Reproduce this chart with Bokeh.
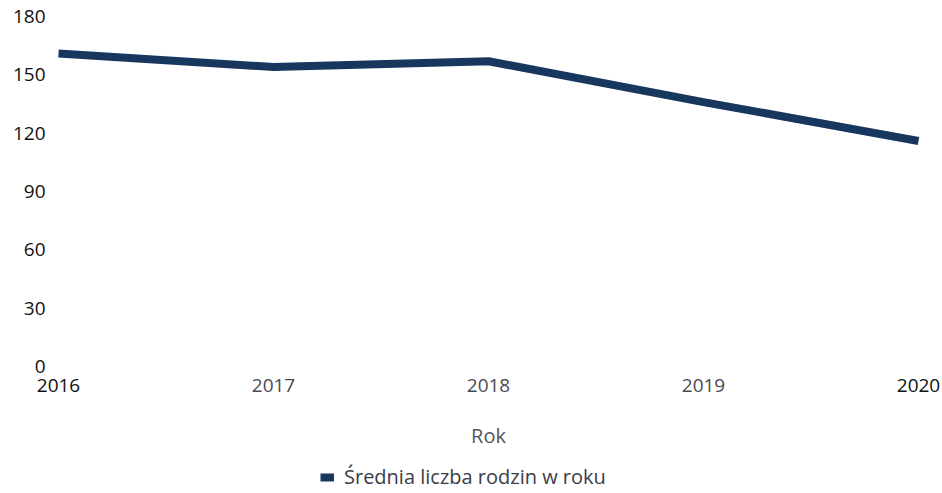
from bokeh.plotting import figure
from bokeh.models import ColumnDataSource, Legend, LegendItem, Range1d
from bokeh.core.properties import value
from bokeh.embed import file_html
from bokeh.resources import INLINE

years = [2016, 2017, 2018, 2019, 2020]
values = [161, 154, 157, 136, 116]
y_ticks = [0, 30, 60, 90, 120, 150, 180]
year_label_colors = ["#111111", "#4a4a55", "#4a4a55", "#4a4a55", "#111111"]
series_name = "Średnia liczba rodzin w roku"
x_title = "Rok"

FONT = "Open Sans"
LINE = "#17375e"

# layout (pixels): plot area spans x 58..918, y 16..366 of a 940x491 canvas
W, H = 940, 491
LEFT, RIGHT, TOP, BASE = 58, 918, 16, 366
ppx = (RIGHT - LEFT) / (years[-1] - years[0])        # px per year
ppy = (BASE - TOP) / (y_ticks[-1] - y_ticks[0])      # px per unit

def dy(px_below_base):
    """data y for a point px_below_base pixels under the zero line"""
    return y_ticks[0] - px_below_base / ppy

p = figure(width=W, height=H, output_backend="svg", toolbar_location=None,
           x_range=Range1d(years[0] - LEFT / ppx, years[-1] + (W - RIGHT) / ppx),
           y_range=Range1d(dy(H - BASE), y_ticks[-1] + TOP / ppy),
           min_border_left=0, min_border_right=0, min_border_top=0, min_border_bottom=0)
p.outline_line_color = None
p.grid.visible = False
p.axis.visible = False

src = ColumnDataSource(dict(x=years, y=values))
r = p.line("x", "y", source=src, line_color=LINE, line_width=8, line_cap="butt", line_join="round")

# y tick labels
ytl = ColumnDataSource(dict(x=[years[0] - 13 / ppx] * len(y_ticks), y=y_ticks,
                            t=[str(v) for v in y_ticks]))
p.text("x", "y", text="t", source=ytl, text_color="#111111", text_font=value(FONT),
       text_font_size="19px", text_align="right", text_baseline="middle")

# x tick labels
xtl = ColumnDataSource(dict(x=years, y=[dy(19)] * len(years),
                            t=[str(y) for y in years], c=year_label_colors))
p.text("x", "y", text="t", source=xtl, text_color="c", text_font=value(FONT),
       text_font_size="19px", text_align="center", text_baseline="middle")

# axis title
ttl = ColumnDataSource(dict(x=[(years[0] + years[-1]) / 2], y=[dy(69)], t=[x_title]))
p.text("x", "y", text="t", source=ttl, text_color="#55555f", text_font=value(FONT),
       text_font_size="20px", text_align="center", text_baseline="middle")

legend = Legend(items=[LegendItem(label=series_name, renderers=[r])],
                location=(320, 1), orientation="horizontal",
                border_line_color=None, background_fill_alpha=0,
                label_text_font=FONT, label_text_font_size="20px", label_text_color="#3c3c46",
                label_height=20, glyph_width=14, glyph_height=20, label_standoff=10,
                padding=0, margin=0)
p.add_layout(legend, "center")

open("out.html", "w").write(file_html(p, INLINE))
